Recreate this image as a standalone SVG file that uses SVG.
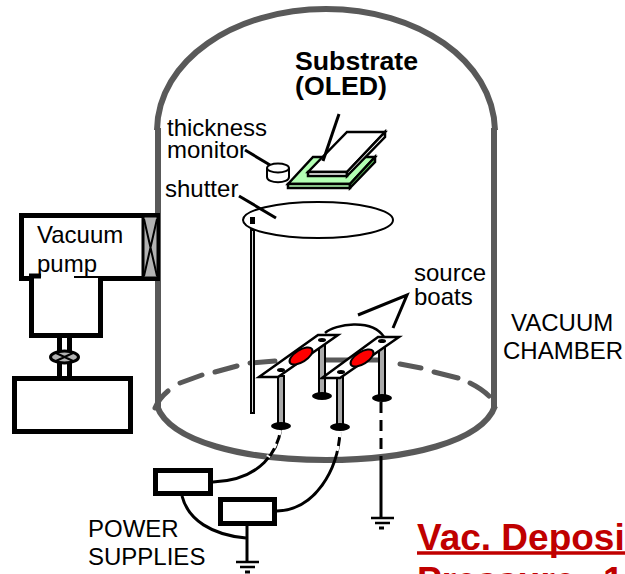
<svg xmlns="http://www.w3.org/2000/svg" width="625" height="574" viewBox="0 0 625 574">
<style>
text{font-family:"Liberation Sans",Arial,sans-serif;fill:#000}
.t{font-size:24px}
.b{font-size:26.700px;font-weight:bold}
.r{font-size:37px;font-weight:bold;fill:#c00000}
.g{fill:none;stroke:#595959;stroke-width:6}
.d{fill:none;stroke:#595959;stroke-width:5;stroke-linecap:round}
.k{fill:none;stroke:#000;stroke-width:3}
.w{fill:#fff;stroke:#000;stroke-width:2}
.p{fill:#fff;stroke:#000;stroke-width:5}
.s{fill:#aaa;stroke:#000;stroke-width:2}
.e{fill:#fff;stroke:#000;stroke-width:2.500}
.h{fill:#f00;stroke:#000;stroke-width:2}
.gr{fill:none;stroke:#000;stroke-width:2.500}
</style>
<rect width="625" height="574" fill="#fff"/>
<g id="chamber">
<path class="g" d="M157 130C158 60 235 9 326 9C417 9 493 60 495 130"/>
<path class="g" d="M158 128V408"/>
<path class="g" d="M494 128V408"/>
<path class="g" d="M157 406C170 442 245 460 326 460C407 460 482 442 495 406"/>
<path class="d" d="M155 408C158 401 162 396 168 391M180 383L202 375M215 372L237 366M250 363L275 361M325 360H380M400 364L421 368M434 372L458 378M470 383C478 387 484 391 489 396"/>
</g>
<g id="pump">
<rect x="21.500" y="215.500" width="136" height="63" class="p"/>
<rect x="143" y="216" width="15" height="62" fill="#b2b2b2" stroke="#000" stroke-width="3"/>
<path d="M144 219L157 276M157 219L144 276" stroke="#000" stroke-width="2" fill="none"/>
<path class="p" d="M31.500 278V335.500H100.500V278"/>
<rect x="34" y="275" width="40" height="7" fill="#fff"/>
<path d="M29 276H41" stroke="#000" stroke-width="5"/>
<path d="M59.500 336V378M69.500 336V378" stroke="#000" stroke-width="5" fill="none"/>
<ellipse cx="64.500" cy="357" rx="14" ry="6" fill="#b2b2b2" stroke="#000" stroke-width="3"/>
<path d="M56 353L73 361M73 353L56 361" stroke="#000" stroke-width="2"/>
<rect x="14.500" y="378.500" width="116" height="53" class="p"/>
<text class="t" x="37" y="243">Vacuum</text>
<text class="t" x="37" y="272">pump</text>
</g>
<g id="substrate">
<path d="M288 184L313 157H375L350 184Z" fill="#b3ffb3" stroke="#000" stroke-width="2.500"/>
<path d="M288 184H350V188H288Z" fill="#b3ffb3" stroke="#000" stroke-width="2.500"/>
<path d="M350 184L375 157V162L350 188Z" fill="#66cc66" stroke="#000" stroke-width="2.500"/>
<path d="M308 172L347 132H385L347 172Z" fill="#fff" stroke="#000" stroke-width="2.500"/>
<path d="M308 172H347V176H308Z" fill="#fff" stroke="#000" stroke-width="2.500"/>
<path d="M347 172L385 132V137L347 176Z" fill="#fff" stroke="#000" stroke-width="2.500"/>
<path class="k" d="M339 114L323 161"/>
<text class="b" x="295" y="70">Substrate</text>
<text class="b" x="295" y="95">(OLED)</text>
</g>
<g id="monitor">
<path d="M267 169V177C267 184 289 184 289 177V169Z" class="w"/>
<ellipse cx="278" cy="168" rx="11" ry="4.500" class="w"/>
<path class="k" d="M245 150L270 165"/>
<text class="t" x="167" y="136">thickness</text>
<text class="t" x="167" y="158">monitor</text>
</g>
<g id="shutter">
<ellipse cx="318" cy="220" rx="75" ry="18" fill="#fff" stroke="#000" stroke-width="2"/>
<rect x="250" y="217" width="5" height="7" fill="#000"/>
<rect x="251" y="230" width="3" height="183" fill="#ddd" stroke="#000" stroke-width="2"/>
<path class="k" d="M239 196L276 218"/>
<text class="t" x="165" y="197">shutter</text>
</g>
<g id="connectors">
<path class="k" d="M281 428C278 450 262 480 213 482"/>
<path class="k" d="M340 432C338 470 315 510 277 511"/>
<path class="k" d="M182 496C188 520 212 535 246 538"/>
<path class="k" d="M247 526V561"/>
<path class="gr" d="M236 562H259M240 567H255"/>
<path d="M245 572H250" stroke="#000" stroke-width="3"/>
<path class="k" d="M381 460V517"/>
<path class="gr" d="M371 518H394M375 523H390"/>
<path d="M379 528H384" stroke="#000" stroke-width="3"/>
<path d="M381 402V460" fill="none" stroke="#000" stroke-width="3" stroke-dasharray="11 7"/>
<path fill="none" stroke="#fff" stroke-width="4" stroke-dasharray="5 9" d="M280 430C277 442 273 449 268 457M340 432C339 441 337 449 335 457"/>
</g>
<g id="boats">
<path d="M325 333C335 324 372 318 384 337" fill="none" stroke="#000" stroke-width="2.500"/>
<rect x="278" y="376" width="6" height="48" class="s"/>
<ellipse cx="281" cy="426" rx="10" ry="4"/>
<rect x="319" y="340" width="6" height="54" class="s"/>
<ellipse cx="322" cy="396" rx="10" ry="4"/>
<path class="e" d="M259 377L318 335H338L278 377Z"/>
<ellipse cx="301" cy="356" rx="13" ry="6" transform="rotate(-32 301 356)" class="h"/>
<ellipse cx="281" cy="370" rx="4" ry="2"/>
<ellipse cx="322" cy="340" rx="4" ry="2"/>
<rect x="337" y="372" width="6" height="53" class="s"/>
<ellipse cx="340" cy="427" rx="10" ry="4"/>
<rect x="379" y="344" width="6" height="52" class="s"/>
<ellipse cx="382" cy="398" rx="10" ry="4"/>
<path class="e" d="M322 378L378 337H399L340 378Z"/>
<ellipse cx="362" cy="358" rx="13" ry="6" transform="rotate(-32 362 358)" class="h"/>
<ellipse cx="341" cy="372" rx="4" ry="2"/>
<ellipse cx="382" cy="341" rx="4" ry="2"/>
<path class="k" d="M358 315L407 295L393 328"/>
<text class="t" x="414" y="281">source</text>
<text class="t" x="414" y="305">boats</text>
</g>
<g id="power1"><rect x="155.500" y="470.500" width="55" height="23" class="p"/></g>
<g id="power2"><rect x="220.500" y="499.500" width="54" height="24" class="p"/></g>
<text class="t" x="88" y="537">POWER</text>
<text class="t" x="88" y="565">SUPPLIES</text>
<g id="labels">
<text class="t" x="511" y="331">VACUUM</text>
<text class="t" x="503" y="359">CHAMBER</text>
<text class="r" x="417" y="549.500">Vac. Deposi</text>
<path d="M417 553H625" stroke="#c00000" stroke-width="3.500"/>
<text class="r" x="417" y="592.500">Pressure:<tspan x="603">1</tspan></text>
</g>
</svg>
